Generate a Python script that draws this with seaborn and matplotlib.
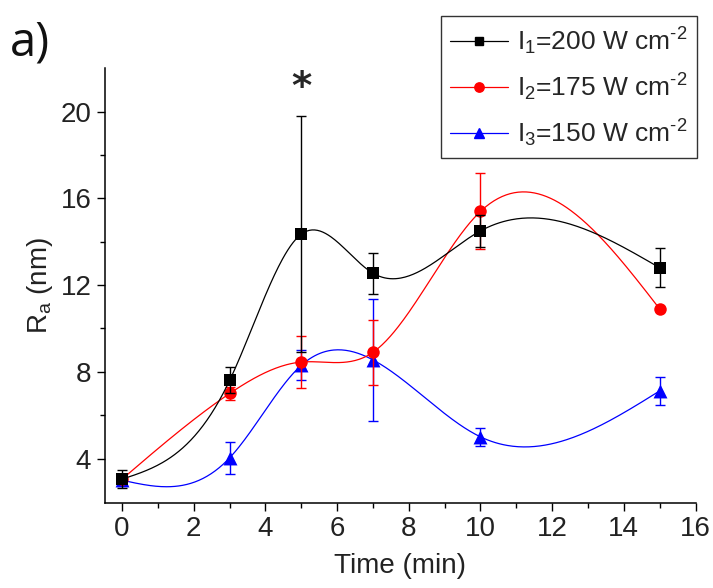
import numpy as np
import pandas as pd
import matplotlib
matplotlib.use("Agg")
import matplotlib.pyplot as plt
from matplotlib.lines import Line2D
from matplotlib.ticker import MultipleLocator, FixedLocator
import seaborn as sns

# ---- data ----
time = [0, 3, 5, 7, 10, 15]
ra_i1 = [3.05, 7.6, 14.35, 12.55, 14.5, 12.8]
err_i1 = [0.4, 0.6, 5.45, 0.95, 0.75, 0.9]
ra_i2 = [3.05, 7.0, 8.45, 8.9, 15.4, 10.9]
err_i2 = [0.2, 0.3, 1.2, 1.5, 1.75, 0.0]
ra_i3 = [3.0, 4.03, 8.3, 8.55, 5.0, 7.12]
err_i3 = [0.2, 0.73, 0.7, 2.8, 0.4, 0.64]
labels = ["I$_1$=200 W cm$^{\u20102}$", "I$_2$=175 W cm$^{\u20102}$", "I$_3$=150 W cm$^{\u20102}$"]
colors = ["black", "red", "blue"]
markers = ["s", "o", "^"]
msizes = [8.5, 9, 10]

sns.set_theme(style="ticks")
plt.rcParams["font.family"] = ["Liberation Sans", "DejaVu Sans"]
plt.rcParams["mathtext.default"] = "regular"


def natural_spline(x, y, n=400):
    x = np.asarray(x, float)
    y = np.asarray(y, float)
    k = len(x)
    h = np.diff(x)
    A = np.zeros((k, k))
    b = np.zeros(k)
    A[0, 0] = 1
    A[-1, -1] = 1
    for i in range(1, k - 1):
        A[i, i - 1] = h[i - 1]
        A[i, i] = 2 * (h[i - 1] + h[i])
        A[i, i + 1] = h[i]
        b[i] = 6 * ((y[i + 1] - y[i]) / h[i] - (y[i] - y[i - 1]) / h[i - 1])
    M = np.linalg.solve(A, b)
    xs = np.linspace(x[0], x[-1], n)
    idx = np.clip(np.searchsorted(x, xs) - 1, 0, k - 2)
    x0, x1 = x[idx], x[idx + 1]
    hh = x1 - x0
    t0 = x1 - xs
    t1 = xs - x0
    ys = (M[idx] * t0 ** 3 / (6 * hh) + M[idx + 1] * t1 ** 3 / (6 * hh)
          + (y[idx] / hh - M[idx] * hh / 6) * t0
          + (y[idx + 1] / hh - M[idx + 1] * hh / 6) * t1)
    return xs, ys


fig = plt.figure(figsize=(7.13, 5.88), dpi=100)
ax = fig.add_axes([0.1466, 0.1446, 0.8289, 0.7392])

series = [(ra_i1, err_i1), (ra_i2, err_i2), (ra_i3, err_i3)]
zs = [6, 5, 4]
for (vals, errs), lab, c, m, ms, z in list(zip(series, labels, colors, markers, msizes, zs))[::-1]:
    xs, ys = natural_spline(time, vals)
    curve = pd.DataFrame({"t": xs, "v": ys})
    sns.lineplot(data=curve, x="t", y="v", ax=ax, color=c, linewidth=0.9, zorder=z)
    ax.errorbar(time, vals, yerr=errs, fmt="none", ecolor=c, elinewidth=1.0,
                capsize=3.5, capthick=1.0, zorder=z)
    pts = pd.DataFrame({"t": time, "v": vals})
    sns.scatterplot(data=pts, x="t", y="v", ax=ax, color=c, marker=m, s=ms ** 2,
                    edgecolor=c, linewidth=0, zorder=z + 0.5)

ax.set_xlim(-0.49, 16)
ax.set_ylim(1.95, 22)
ax.xaxis.set_major_locator(MultipleLocator(2))
ax.xaxis.set_minor_locator(MultipleLocator(1))
ax.set_yticks([4, 8, 12, 16, 20])
ax.yaxis.set_minor_locator(FixedLocator([6, 10, 14, 18]))
ax.tick_params(axis="both", which="major", direction="out", length=6, width=1,
               labelsize=20, color="black", labelcolor="#222222")
ax.tick_params(axis="both", which="minor", direction="out", length=3.5, width=1, color="black")
for s in ["top", "right"]:
    ax.spines[s].set_visible(False)
for s in ["left", "bottom"]:
    ax.spines[s].set_linewidth(1.1)
    ax.spines[s].set_color("black")

ax.set_xlabel("Time (min)", fontsize=20, color="#222222", labelpad=8)
ax.set_ylabel(r"R$_a$ (nm)", fontsize=20, color="#222222", labelpad=4)

handles = [Line2D([0], [0], color=c, marker=m, markersize=ms * 0.75, linewidth=0.9)
           for c, m, ms in zip(colors, markers, msizes)]
leg = ax.legend(handles, labels, loc="upper right", bbox_to_anchor=(0.977, 0.972),
                bbox_transform=fig.transFigure,
                frameon=True, fancybox=False, edgecolor="black",
                handlelength=2.2, handletextpad=0.35, borderpad=0.35, labelspacing=0.55,
                borderaxespad=0,
                prop={"family": ["Liberation Sans", "DejaVu Sans"], "size": 19})
leg.get_frame().set_linewidth(1.0)

ax.text(5, 21.1, "*", fontsize=28, fontweight="bold", ha="center", va="center",
        family=["DejaVu Sans"])
fig.text(0.014, 0.905, "a)", fontsize=34, family=["Open Sans", "DejaVu Sans"], color="#111111")

fig.savefig("out.png", dpi=100)
